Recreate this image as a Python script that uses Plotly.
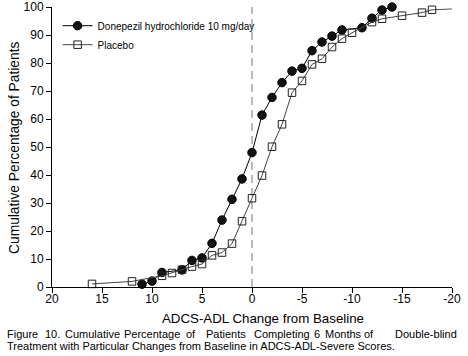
import plotly.graph_objects as go

# Data
don_x = [11, 10, 9, 7, 6, 5, 4, 3, 2, 1, 0, -1, -2, -3, -4, -5, -6, -7, -8, -9, -11, -12, -13, -14]
don_y = [1.0, 2.1, 5.2, 6.1, 9.5, 10.4, 15.6, 23.9, 31.3, 38.6, 48.0, 61.4, 67.7, 73.0, 77.1, 78.1,
         84.4, 87.5, 89.6, 91.8, 92.6, 96.0, 98.9, 100.0]

pla_x = [16, 12, 9, 8, 7, 6, 5, 4, 3, 2, 1, 0, -1, -2, -3, -4, -5, -6, -7, -8, -9, -10, -12, -13,
         -15, -17, -18]
pla_y = [1.1, 2.0, 4.0, 5.0, 6.2, 7.3, 8.2, 11.3, 12.3, 15.5, 23.5, 31.7, 39.8, 50.1, 58.1, 69.4,
         73.6, 79.5, 81.5, 85.7, 88.7, 90.8, 94.6, 95.8, 96.9, 98.0, 99.0]
pla_tail_x = [-18, -20]
pla_tail_y = [99.0, 99.3]

x_ticks = [20, 15, 10, 5, 0, -5, -10, -15, -20]
y_ticks = [0, 10, 20, 30, 40, 50, 60, 70, 80, 90, 100]

caption_line1_words = ["Figure", "10.", "Cumulative", "Percentage", "of", "Patients",
                       "Completing", "6", "Months", "of"]
caption_line1_end = "Double-blind"
caption_line2 = "Treatment with Particular Changes from Baseline in ADCS-ADL-Severe Scores."

FONT = "Liberation Sans, Arial, sans-serif"

# layout geometry in page px
PL, PW = 52, 400        # plot left / width
PB, PH = 287, 280       # plot bottom / height


def px(X):
    return (X - PL) / PW


def py(Y):
    return (PB - Y) / PH


fig = go.Figure()
fig.add_trace(go.Scatter(
    x=pla_tail_x, y=pla_tail_y, mode="lines", showlegend=False, cliponaxis=False,
    line=dict(color="#555555", width=1), hoverinfo="skip"))
fig.add_trace(go.Scatter(
    x=don_x, y=don_y, mode="lines+markers", name="Donepezil hydrochloride 10 mg/day",
    cliponaxis=False,
    line=dict(color="#000000", width=1),
    marker=dict(symbol="circle", size=8.5, color="#111111", line=dict(color="#000000", width=1))))
fig.add_trace(go.Scatter(
    x=pla_x, y=pla_y, mode="lines+markers", name="Placebo", cliponaxis=False,
    line=dict(color="#444444", width=1),
    marker=dict(symbol="square-open", size=7.5, color="#222222", line=dict(width=1))))

fig.add_shape(type="line", xref="x", yref="paper", x0=0, x1=0, y0=0, y1=1,
              line=dict(color="#777777", width=1, dash="8px,5px"), layer="below")

fig.update_layout(
    width=468, height=356,
    margin=dict(l=52, r=16, t=7, b=69),
    paper_bgcolor="white", plot_bgcolor="white",
    font=dict(family=FONT, color="#000000", size=12),
    showlegend=True,
    legend=dict(x=0.014, y=0.985, xanchor="left", yanchor="top",
                font=dict(size=10, family=FONT), bgcolor="rgba(0,0,0,0)",
                tracegroupgap=0, itemwidth=30),
    xaxis=dict(range=[20, -20], tickvals=x_ticks, ticktext=[str(v) for v in x_ticks],
               showgrid=False, zeroline=False, showline=True, linecolor="#000000", linewidth=1,
               ticks="outside", ticklen=5, tickcolor="#000000", automargin=False,
               ticklabelstandoff=-4, tickfont=dict(size=12)),
    yaxis=dict(range=[0, 100], tickvals=y_ticks,
               showgrid=False, zeroline=False, showline=True, linecolor="#000000", linewidth=1,
               ticks="outside", ticklen=5, tickcolor="#000000", automargin=False,
               tickfont=dict(size=12)),
)

# axis titles
fig.add_annotation(xref="paper", yref="paper", x=px(263), y=py(318), xanchor="center",
                   yanchor="middle", text="ADCS-ADL Change from Baseline", showarrow=False,
                   font=dict(size=13.3, family=FONT))
fig.add_annotation(xref="paper", yref="paper", x=px(14), y=py(148), xanchor="center",
                   yanchor="middle", textangle=-90, text="Cumulative Percentage of Patients",
                   showarrow=False, font=dict(size=13.8, family=FONT))

# caption (line 1 is justified in the reference)
line1_x = [6, 44, 64, 123, 185, 205, 253, 313, 324, 363]
for w, xx in zip(caption_line1_words, line1_x):
    fig.add_annotation(xref="paper", yref="paper", x=px(xx), y=py(334), xanchor="left",
                       yanchor="middle", text=w, showarrow=False, xshift=-1,
                       font=dict(size=11, family=FONT))
fig.add_annotation(xref="paper", yref="paper", x=px(426), y=py(334), xanchor="center",
                   yanchor="middle", text=caption_line1_end, showarrow=False,
                   font=dict(size=11, family=FONT))
fig.add_annotation(xref="paper", yref="paper", x=px(6), y=py(346), xanchor="left",
                   yanchor="middle", text=caption_line2, showarrow=False, xshift=-1,
                   font=dict(size=11, family=FONT))

fig.write_html("out.html", config={"displayModeBar": False},
               post_script="document.body.style.margin='0px';")
